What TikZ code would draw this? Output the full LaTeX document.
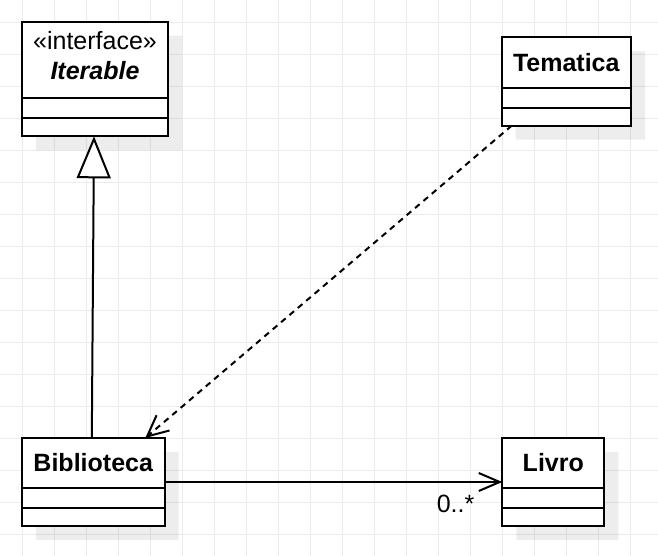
\documentclass[tikz,border=0pt]{standalone}
\usepackage{fontspec}
\setmainfont{Liberation Sans}
\usetikzlibrary{arrows.meta, positioning, shapes.multipart, shadows}
\definecolor{gridgray}{RGB}{235, 235, 235}

\begin{document}
\begin{tikzpicture}[
    x=1pt, y=1pt,
    umlclass/.style={draw, fill=white, line width=2pt, rectangle split, rectangle split parts=3, inner xsep=0pt, inner ysep=0pt, outer sep=0pt, align=center, font=\fontsize{25}{30}\selectfont, drop shadow={shadow xshift=14pt, shadow yshift=-14pt, fill=black, opacity=0.07}},
    gridline/.style={gridgray, line width=1pt},
    inherit/.style={line width=2pt, -{Triangle[open, fill=white, length=42pt, width=34pt]}},
    depend/.style={line width=2pt, dash pattern=on 6pt off 5pt, -{Straight Barb[length=21pt, width=20pt]}},
    assoc/.style={line width=2pt, -{Straight Barb[length=21pt, width=18pt]}},
    mult/.style={font=\fontsize{25}{30}\selectfont, inner sep=0pt}
]
    \useasboundingbox (0,0) rectangle (658,556);

    % Grid
    \foreach \gx in {0,...,19} \draw[gridline] (22.3+32*\gx,0) -- (22.3+32*\gx,556);
    \foreach \gy in {0,...,16} \draw[gridline] (0,21.7+32*\gy) -- (658,21.7+32*\gy);

    % Nodes - top row
    \node[umlclass, text width=146pt, anchor=north west] (iterable) at (22,534.3)
        {«interface»\rule{0pt}{27.3pt}\\\textbf{\textit{Iterable}}\rule[-17pt]{0pt}{17pt}
         \nodepart{second}\rule{0pt}{18pt}\nodepart{third}\rule{0pt}{16.3pt}};
    \node[umlclass, text width=129.3pt, anchor=north west] (tematica) at (501.7,518.7)
        {\rule[-15pt]{0pt}{48.4pt}\textbf{Tematica}\nodepart{second}\rule{0pt}{18pt}\nodepart{third}\rule{0pt}{16pt}};

    % Nodes - bottom row
    \node[umlclass, text width=142.6pt, below=301.7pt of iterable.south west, anchor=north west] (biblioteca)
        {\rule[-15pt]{0pt}{48pt}\textbf{Biblioteca}\nodepart{second}\rule{0pt}{18pt}\nodepart{third}\rule{0pt}{16pt}};
    \node[umlclass, text width=102pt, right=337.7pt of biblioteca.north east, anchor=north west] (livro)
        {\rule[-15pt]{0pt}{48pt}\textbf{Livro}\nodepart{second}\rule{0pt}{18pt}\nodepart{third}\rule{0pt}{16pt}};

    % Arrows
    \draw[inherit] ([xshift=-1.5pt]biblioteca.north) -- ([xshift=-1pt]iterable.south);
    \draw[depend] ([xshift=10pt]tematica.south west) -- ([xshift=123.3pt]biblioteca.north west);
    \draw[assoc] (biblioteca.east) -- (livro.west) node[mult, pos=1, anchor=base east, xshift=-27pt, yshift=-31pt] {0..*};
\end{tikzpicture}
\end{document}
